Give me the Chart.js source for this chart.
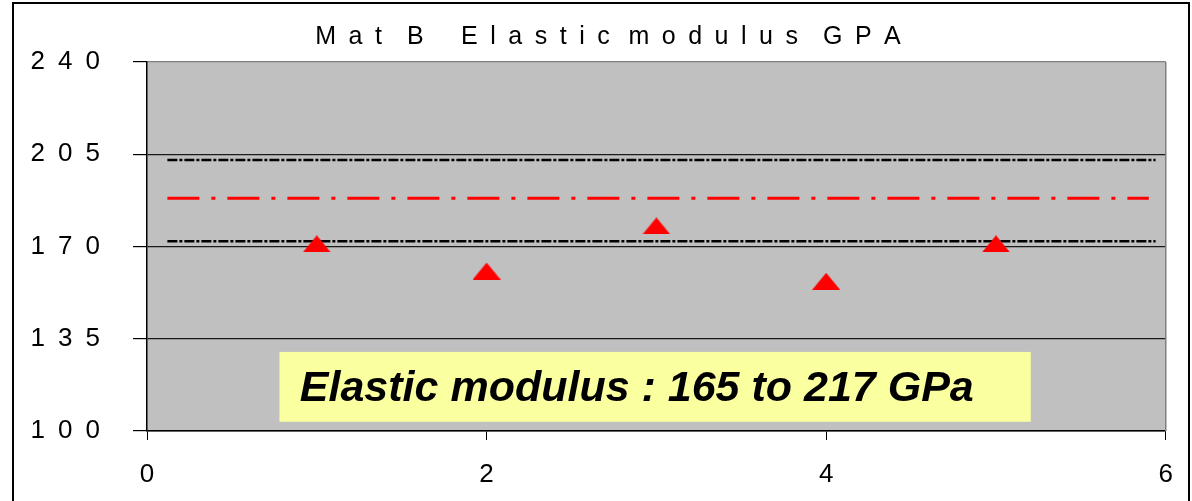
<!DOCTYPE html>
<html>
<head>
<meta charset="utf-8">
<title>Mat B Elastic modulus GPA</title>
<script src="https://cdn.jsdelivr.net/npm/chart.js@4.4.1/dist/chart.umd.min.js"></script>
<style>
  html, body { margin: 0; padding: 0; background: #ffffff; }
  #wrap { position: relative; width: 1192px; height: 501px; }
</style>
</head>
<body>
<div id="wrap"><canvas id="chart"></canvas></div>
<script>
// Specimen measurements (Mat B), elastic modulus in GPa
const specimens = [1, 2, 3, 4, 5];
const modulus = [171, 160.7, 177.8, 156.8, 171];

// Horizontal reference lines: start/end positions and levels
const refSpan = [0.12, 5.94];
const meanSpan = [0.12, 5.9];
const upperLimit = 202.8;
const meanLevel = 188.3;
const lowerLimit = 172.0;

// Axis ticks
const yTicks = [100, 135, 170, 205, 240];
const xTicks = [0, 2, 4, 6];

// Note shown in the plot
const noteText = 'Elastic modulus : 165 to 217 GPa';
const noteBox = { x0: 0.78, x1: 5.205, y0: 130.0, y1: 103.5, textX: 0.9, textY: 111.4 };

// Spaced-out title; the leading em spaces shift it right of the canvas centre
const titleText = '\u2003\u2003M\u2002a\u2002t\u2002\u2002B\u2003\u2002E\u2002l\u2002a\u2002s\u2002t\u2002i\u2002c\u2002\u2005m\u2002o\u2002d\u2002u\u2002l\u2002u\u2002s\u2003G\u2002P\u2002A';

const FONT = '"Liberation Sans", Arial, Helvetica, sans-serif';

// Flat red triangle marker
const tri = document.createElement('canvas');
tri.width = 28; tri.height = 17;
(function () {
  const c = tri.getContext('2d');
  c.fillStyle = '#ff0000';
  c.beginPath();
  c.moveTo(14, 0);
  c.lineTo(28, 17);
  c.lineTo(0, 17);
  c.closePath();
  c.fill();
})();

const toPoints = (xs, ys) => xs.map((x, i) => ({ x: x, y: ys[i] }));
const level = (span, v) => span.map(x => ({ x: x, y: v }));

// Frame, plot background, plot border and the note box
const decor = {
  id: 'decor',
  beforeDraw(chart) {
    const { ctx, chartArea: a } = chart;
    ctx.save();
    ctx.fillStyle = '#ffffff';
    ctx.fillRect(0, 0, chart.width, chart.height);
    ctx.fillStyle = '#c0c0c0';
    ctx.fillRect(a.left, a.top, a.right - a.left, a.bottom - a.top);
    ctx.strokeStyle = '#000000';
    ctx.lineWidth = 2;
    ctx.strokeRect(13, 3, 1176, 600);
    ctx.restore();
  },
  beforeDatasetsDraw(chart) {
    const { ctx, chartArea: a, scales: { x, y } } = chart;
    ctx.save();
    ctx.strokeStyle = '#808080';
    ctx.lineWidth = 1.5;
    ctx.beginPath();
    ctx.moveTo(a.right, a.top);
    ctx.lineTo(a.right, a.bottom);
    ctx.stroke();
    const bx0 = x.getPixelForValue(noteBox.x0), bx1 = x.getPixelForValue(noteBox.x1);
    const by0 = y.getPixelForValue(noteBox.y0), by1 = y.getPixelForValue(noteBox.y1);
    ctx.fillStyle = '#faff9f';
    ctx.fillRect(bx0, by0, bx1 - bx0, by1 - by0);
    ctx.fillStyle = '#000000';
    ctx.font = 'italic bold 43px ' + FONT;
    ctx.textAlign = 'left';
    ctx.textBaseline = 'alphabetic';
    ctx.fillText(noteText, x.getPixelForValue(noteBox.textX), y.getPixelForValue(noteBox.textY));
    ctx.restore();
  }
};

new Chart(document.getElementById('chart'), {
  type: 'scatter',
  data: {
    datasets: [
      {
        label: 'Modulus',
        data: toPoints(specimens, modulus),
        pointStyle: tri,
        pointRadius: 10,
        showLine: false
      },
      {
        label: 'Upper',
        data: level(refSpan, upperLimit),
        showLine: true,
        borderColor: '#000000',
        borderWidth: 2.5,
        borderDash: [10, 2, 3, 2],
        pointRadius: 0
      },
      {
        label: 'Mean',
        data: level(meanSpan, meanLevel),
        showLine: true,
        borderColor: '#ff0000',
        borderWidth: 3,
        borderDash: [32, 12, 4, 12],
        pointRadius: 0
      },
      {
        label: 'Lower',
        data: level(refSpan, lowerLimit),
        showLine: true,
        borderColor: '#000000',
        borderWidth: 2.5,
        borderDash: [10, 2, 3, 2],
        pointRadius: 0
      }
    ]
  },
  options: {
    responsive: true,
    maintainAspectRatio: false,
    animation: false,
    layout: { padding: { left: 0, right: 26, top: 0, bottom: 0 } },
    plugins: {
      legend: { display: false },
      tooltip: { enabled: false },
      title: {
        display: true,
        text: titleText,
        color: '#000000',
        font: { family: FONT, size: 25, weight: 'normal' },
        padding: { top: 22, bottom: 10 }
      }
    },
    scales: {
      x: {
        type: 'linear',
        min: 0,
        max: 6,
        afterFit(s) { s.height = 70; },
        afterBuildTicks(s) { s.ticks = xTicks.map(v => ({ value: v })); },
        ticks: {
          color: '#000000',
          font: { family: FONT, size: 26 },
          padding: 19,
          maxRotation: 0
        },
        grid: { drawOnChartArea: false, drawTicks: true, tickLength: 9, tickColor: '#000000' },
        border: { color: '#000000', width: 1.5 }
      },
      y: {
        type: 'linear',
        min: 100,
        max: 240,
        afterFit(s) { s.width = 147; },
        afterBuildTicks(s) { s.ticks = yTicks.map(v => ({ value: v })); },
        ticks: {
          color: '#000000',
          font: { family: FONT, size: 26 },
          padding: 33,
          callback: v => String(v).split('').join('\u2002')
        },
        grid: {
          color: ctx => (ctx.tick && ctx.tick.value === 240) ? '#808080' : '#1a1a1a',
          lineWidth: 1.2,
          drawTicks: true,
          tickLength: 14,
          tickColor: '#000000'
        },
        border: { color: '#000000', width: 1.5 }
      }
    }
  },
  plugins: [decor]
});
</script>
</body>
</html>
